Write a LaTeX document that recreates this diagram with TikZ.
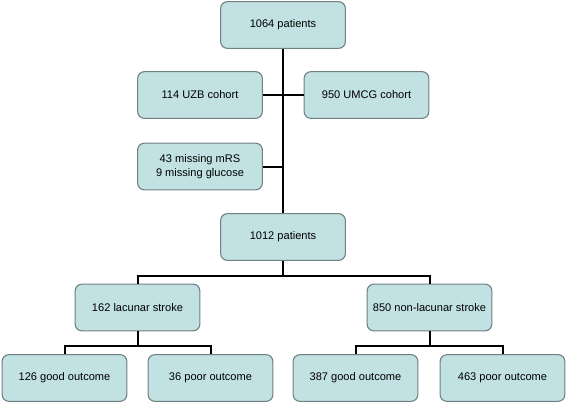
\documentclass[tikz,border=0pt]{standalone}
\usepackage{fontspec}
\setmainfont{Liberation Sans}
\usepackage{tikz}
\usetikzlibrary{positioning}
\definecolor{BoxFill}{HTML}{C2E1E3}
\definecolor{BoxLine}{HTML}{6E8082}

\begin{document}
\begin{tikzpicture}[
  x=0.75pt,y=-0.75pt,
  box/.style={draw=BoxLine,fill=BoxFill,line width=0.8pt,rounded corners=5pt,minimum width=93.5pt,minimum height=35pt,align=center,font=\fontsize{8.3}{10}\selectfont,inner sep=1pt},
  link/.style={line width=1.5pt,black},
]
\useasboundingbox (0,0) rectangle (567,404);
\node[box] (all) at (283,25) {1064 patients};
\node[box] (uzb) at (200,95) {114 UZB cohort};
\node[box] (umcg) at (366.5,95) {950 UMCG cohort};
\node[box] (miss) at (200,166.5) {43 missing mRS\\9 missing glucose};
\node[box] (incl) at (283,237) {1012 patients};
\node[box] (lac) at (137.5,307.5) {162 lacunar stroke};
\node[box] (nonlac) at (429.5,307.5) {850 non-lacunar stroke};
\node[box] (lacgood) at (64.5,378) {126 good outcome};
\node[box] (lacpoor) at (210.5,378) {36 poor outcome};
\node[box] (nlgood) at (355.5,378) {387 good outcome};
\node[box] (nlpoor) at (502.5,378) {463 poor outcome};
% trunk and side branches
\draw[link] (all.south) -- (incl.north);
\draw[link] (uzb.east) -- (umcg.west);
\draw[link] (miss.east) -- (miss.east -| all.south);
% splits
\draw[link] (incl.south) -- ++(0,15) -| (lac.north);
\draw[link] (incl.south) -- ++(0,15) -| (nonlac.north);
\draw[link] (lac.south) -- ++(0,15) -| (lacgood.north);
\draw[link] (lac.south) -- ++(0,15) -| (lacpoor.north);
\draw[link] (nonlac.south) -- ++(0,15) -| (nlgood.north);
\draw[link] (nonlac.south) -- ++(0,15) -| (nlpoor.north);
\end{tikzpicture}
\end{document}
